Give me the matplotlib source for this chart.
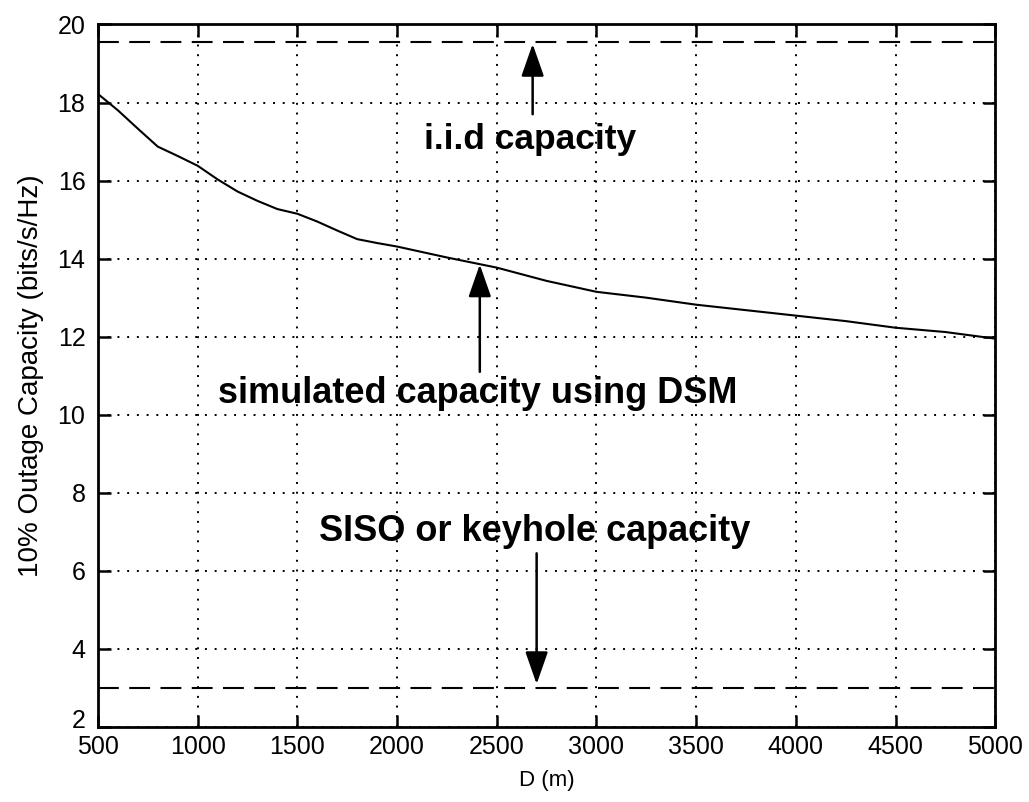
import numpy as np
import matplotlib
matplotlib.use("Agg")
from matplotlib import pyplot as plt
from matplotlib.transforms import ScaledTranslation

plt.rcParams['font.family'] = ['Liberation Sans', 'DejaVu Sans']

# simulated 10% outage capacity vs distance D
D = [500, 600, 700, 800, 900, 1000, 1100, 1200, 1300, 1400, 1500, 1600, 1700,
     1800, 1900, 2000, 2250, 2500, 2750, 3000, 3250, 3500, 3750, 4000, 4250,
     4500, 4750, 5000]
cap_dsm = [18.22, 17.8, 17.33, 16.87, 16.63, 16.38, 16.03, 15.72, 15.48, 15.27,
           15.15, 14.95, 14.72, 14.5, 14.4, 14.31, 14.03, 13.77, 13.43, 13.15,
           13.0, 12.82, 12.68, 12.54, 12.4, 12.23, 12.12, 11.95]

cap_iid = 19.55
cap_siso = 3.0

xticks = [500, 1000, 1500, 2000, 2500, 3000, 3500, 4000, 4500, 5000]
yticks = [2, 4, 6, 8, 10, 12, 14, 16, 18, 20]

fig = plt.figure(figsize=(10.29, 8.02), dpi=100)
ax = fig.add_axes([0.0952, 0.0935, 0.872, 0.876])

ax.plot(D, cap_dsm, color='k', lw=1.5)
ax.axhline(cap_iid, color='k', lw=1.5, dashes=(10, 5))
ax.axhline(cap_siso, color='k', lw=1.5, dashes=(10, 5))

ax.set_xlim(500, 5000)
ax.set_ylim(2, 20)
ax.set_xticks(xticks)
ax.set_yticks(yticks)
ax.grid(True, color='k', lw=1.4, linestyle=(0, (1, 4)))
ax.tick_params(direction='in', top=True, right=True, length=9, width=1.8,
               labelsize=18)
ax.tick_params(axis='y', pad=9)
ax.tick_params(axis='x', pad=6)
for s in ax.spines.values():
    s.set_linewidth(2)

# bottom y label sits a bit higher, like in the original
lab = ax.get_yticklabels()[0]
lab.set_transform(lab.get_transform() + ScaledTranslation(0, 6/72, fig.dpi_scale_trans))

ax.set_xlabel('D (m)', fontsize=16, labelpad=8)
ax.set_ylabel('10% Outage Capacity (bits/s/Hz)', fontsize=20, labelpad=10)

arrow = dict(arrowstyle='-|>,head_length=1.0,head_width=0.35', lw=1.8,
             color='k', shrinkA=0, shrinkB=0, mutation_scale=20)

ax.annotate('', xy=(2680, 19.5), xytext=(2680, 17.7), arrowprops=arrow)
ax.text(2665, 17.05, 'i.i.d capacity', fontsize=25.5, fontweight='bold',
        ha='center', va='center')

ax.annotate('', xy=(2415, 13.85), xytext=(2415, 11.1), arrowprops=arrow)
ax.text(2405, 10.55, 'simulated capacity using DSM', fontsize=26,
        fontweight='bold', ha='center', va='center')

ax.annotate('', xy=(2700, 3.1), xytext=(2700, 6.45), arrowprops=arrow)
ax.text(2690, 7.0, 'SISO or keyhole capacity', fontsize=26,
        fontweight='bold', ha='center', va='center')

fig.savefig('out.png', dpi=100)
